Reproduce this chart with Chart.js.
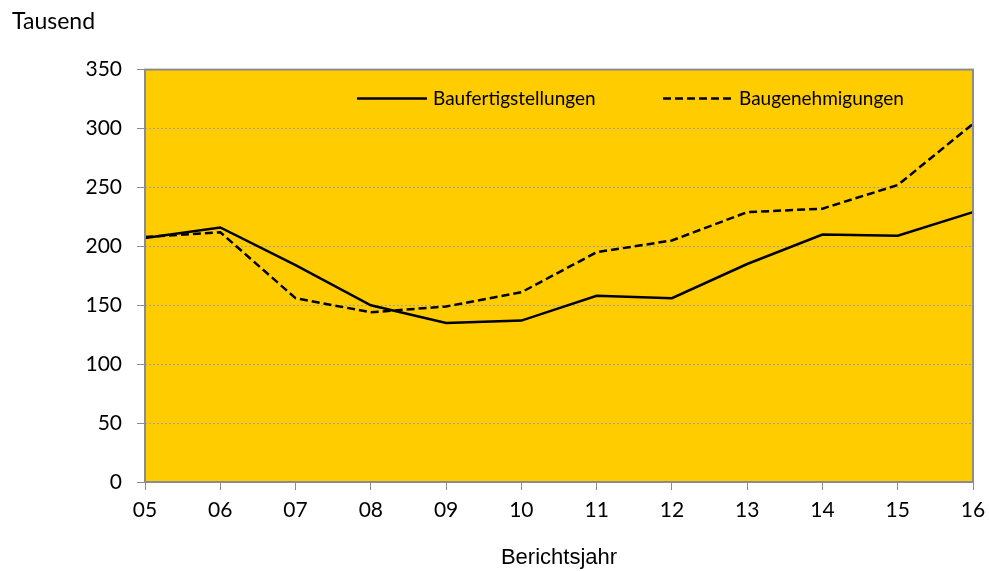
<!DOCTYPE html>
<html>
<head>
<meta charset="utf-8">
<script src="https://cdn.jsdelivr.net/npm/chart.js@4/dist/chart.umd.min.js"></script>
<style>
  html, body { margin: 0; padding: 0; background: #fff; }
  #wrap { width: 989px; height: 571px; }
</style>
</head>
<body>
<div id="wrap"><canvas id="myChart" width="989" height="571"></canvas></div>
<script>
const years = ['05', '06', '07', '08', '09', '10', '11', '12', '13', '14', '15', '16'];
const fertigstellungen = [207, 216, 184, 150, 135, 137, 158, 156, 185, 210, 209, 229];
const genehmigungen = [208, 212, 156, 144, 149, 161, 195, 205, 229, 232, 252, 304];
const yTicks = [0, 50, 100, 150, 200, 250, 300, 350];

const FONT = 'Lato, "Open Sans", sans-serif';

// yellow plot background + grey frame
const plotFrame = {
  id: 'plotFrame',
  beforeDatasetsDraw(chart) {
    const a = chart.chartArea, ctx = chart.ctx;
    ctx.save();
    ctx.fillStyle = '#FFCC00';
    ctx.globalCompositeOperation = 'destination-over';
    ctx.fillRect(a.left, a.top, a.right - a.left, a.bottom - a.top);
    ctx.restore();
  },
  afterDatasetsDraw(chart) {
    const a = chart.chartArea, ctx = chart.ctx;
    ctx.save();
    ctx.strokeStyle = '#8c8c8c';
    ctx.lineWidth = 2;
    ctx.strokeRect(a.left, a.top, a.right - a.left, a.bottom - a.top);
    ctx.restore();
  }
};

// legend sits inside the plot area
const innerLegend = {
  id: 'innerLegend',
  afterDatasetsDraw(chart) {
    const a = chart.chartArea, ctx = chart.ctx;
    const y = a.top + 29;
    const starts = [a.left + 212, a.left + 518];
    ctx.save();
    ctx.font = '19px ' + FONT;
    ctx.textBaseline = 'middle';
    ctx.fillStyle = '#000';
    chart.data.datasets.forEach(function (ds, i) {
      const x = starts[i];
      ctx.beginPath();
      ctx.setLineDash(ds.borderDash || []);
      ctx.lineWidth = ds.borderWidth;
      ctx.strokeStyle = ds.borderColor;
      ctx.moveTo(x, y);
      ctx.lineTo(x + 70, y);
      ctx.stroke();
      ctx.setLineDash([]);
      ctx.fillText(ds.label, x + 76, y);
    });
    ctx.restore();
  }
};

const ctx = document.getElementById('myChart').getContext('2d');
new Chart(ctx, {
  type: 'line',
  data: {
    labels: years,
    datasets: [{
      label: 'Baufertigstellungen',
      data: fertigstellungen,
      borderColor: '#000',
      borderWidth: 2.5,
      pointRadius: 0,
      tension: 0,
      fill: false
    }, {
      label: 'Baugenehmigungen',
      data: genehmigungen,
      borderColor: '#000',
      borderWidth: 2.5,
      borderDash: [8, 4],
      pointRadius: 0,
      tension: 0,
      fill: false
    }]
  },
  options: {
    responsive: false,
    animation: false,
    layout: { padding: { left: 12, right: 16, top: 8, bottom: 0 } },
    plugins: {
      legend: { display: false },
      tooltip: { enabled: false },
      title: {
        display: true,
        text: 'Tausend',
        align: 'start',
        color: '#000',
        font: { family: FONT, size: 23, weight: 'normal' },
        padding: { top: 0, bottom: 34 }
      }
    },
    scales: {
      x: {
        offset: false,
        grid: { display: true, drawOnChartArea: false, color: '#8c8c8c', tickLength: 8 },
        border: { display: false },
        ticks: { color: '#000', font: { family: FONT, size: 21 }, padding: 8, maxRotation: 0, autoSkip: false },
        title: {
          display: true,
          text: 'Berichtsjahr',
          color: '#000',
          font: { family: '"Liberation Sans", Arial, sans-serif', size: 22 },
          padding: { top: 0, bottom: 0 }
        },
        afterFit(scale) {
          scale.height = 89;
          scale.paddingLeft = 0;
          scale.paddingRight = 0;
        }
      },
      y: {
        min: 0,
        max: 350,
        afterBuildTicks(scale) { scale.ticks = yTicks.map(function (v) { return { value: v }; }); },
        grid: { color: '#a0a0a0', lineWidth: 1, tickLength: 8, tickColor: '#8c8c8c', tickBorderDash: [] },
        border: { display: false, dash: [2, 2] },
        ticks: { color: '#000', font: { family: FONT, size: 21 }, padding: 15 },
        afterFit(scale) { scale.width = 133; }
      }
    }
  },
  plugins: [plotFrame, innerLegend]
});
</script>
</body>
</html>
